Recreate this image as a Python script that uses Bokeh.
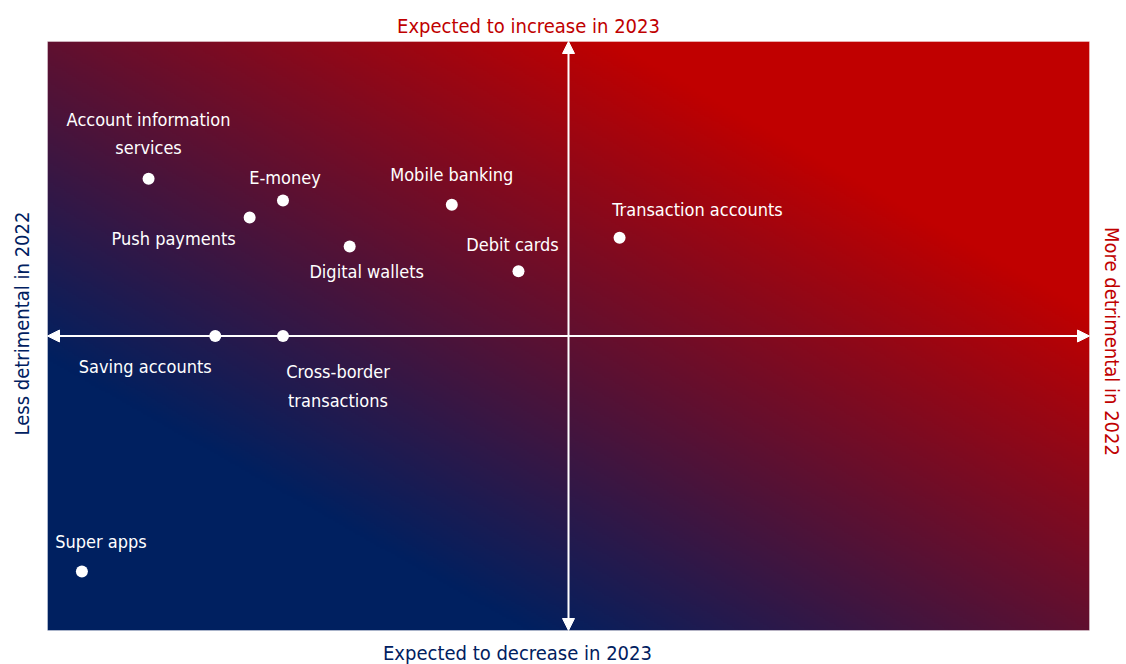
import numpy as np
from bokeh.plotting import figure
from bokeh.models import Range1d, Label, Arrow, NormalHead, ColumnDataSource
from bokeh.core.properties import value
from bokeh.embed import file_html
from bokeh.resources import INLINE

# ---- data ----
names = ["Account information\nservices", "E-money", "Push payments", "Mobile banking",
         "Digital wallets", "Debit cards", "Transaction accounts", "Saving accounts",
         "Cross-border\ntransactions", "Super apps"]
detriment_2022 = [-4.03, -2.74, -3.06, -1.12, -2.10, -0.48, 0.49, -3.39, -2.74, -4.67]
expectation_2023 = [2.67, 2.30, 2.01, 2.23, 1.52, 1.10, 1.67, 0.0, 0.0, -4.00]

# label placement (screen px, relative to the point)
label_dx = [0, 2, -76, 0, 17, -6, 78, -70, 55, 19]
label_dy = [-45, -23, 21, -30, 25, -27, -28, 30, 50, -30]

FONT = "DejaVu Sans Condensed"
NAVY = "#002060"
RED = "#C00000"

# the quadrant box spans -5..5 on both axes; the ranges leave room for the captions
p = figure(width=1126, height=664, output_backend="svg", toolbar_location=None,
           x_range=Range1d(-5.4511, 5.3551), y_range=Range1d(-5.5772, 5.6961),
           min_border=0)
p.axis.visible = False
p.grid.visible = False
p.outline_line_color = None
p.background_fill_color = "white"
p.border_fill_color = "white"

# gradient background (navy bottom-left -> red top-right)
ny, nx = 300, 500
u = np.linspace(0, 1, nx)[None, :]
v = np.linspace(0, 1, ny)[:, None]
t = np.clip(((u + v) / 2 - 0.23) / 0.54, 0, 1)
c0 = np.array([0, 32, 96]); c1 = np.array([192, 0, 0])
img = np.empty((ny, nx), dtype=np.uint32)
view = img.view(dtype=np.uint8).reshape((ny, nx, 4))
for k in range(3):
    view[:, :, k] = (c0[k] + (c1[k] - c0[k]) * t).astype(np.uint8)
view[:, :, 3] = 255
p.image_rgba(image=[img], x=-5, y=-5, dw=10, dh=10)
p.quad(left=[-5], right=[5], bottom=[-5], top=[5], fill_color=None,
       line_color="white", line_alpha=0.35, line_width=1)

# axes arrows
for xs, ys, xe, ye in [(-5, 0, 5, 0), (0, -5, 0, 5)]:
    p.add_layout(Arrow(x_start=xs, y_start=ys, x_end=xe, y_end=ye,
                       line_color="white", line_width=2,
                       start=NormalHead(size=12, fill_color="white", line_color="white"),
                       end=NormalHead(size=12, fill_color="white", line_color="white")))

src = ColumnDataSource(dict(x=detriment_2022, y=expectation_2023, name=names,
                            dx=label_dx, dy=label_dy))
p.scatter("x", "y", source=src, size=12, fill_color="white", line_color=None)
p.text("x", "y", text="name", source=src, x_offset="dx", y_offset="dy",
       text_align="center", text_baseline="middle", text_color="white",
       text_font=value(FONT), text_font_size="18px", text_line_height=1.35)

# quadrant captions
captions = [
    (-0.384, 5.255, "Expected to increase in 2023", RED, 0.0),
    (-0.49, -5.374, "Expected to decrease in 2023", NAVY, 0.0),
    (-5.24, 0.212, "Less detrimental in 2022", NAVY, np.pi / 2),
    (5.22, -0.093, "More detrimental in 2022", RED, -np.pi / 2),
]
for cx, cy, txt, col, ang in captions:
    p.add_layout(Label(x=cx, y=cy, text=txt, text_color=col, text_font=FONT,
                       text_font_size="20px", text_align="center",
                       text_baseline="middle", angle=ang))

open("out.html", "w").write(file_html(p, INLINE))
